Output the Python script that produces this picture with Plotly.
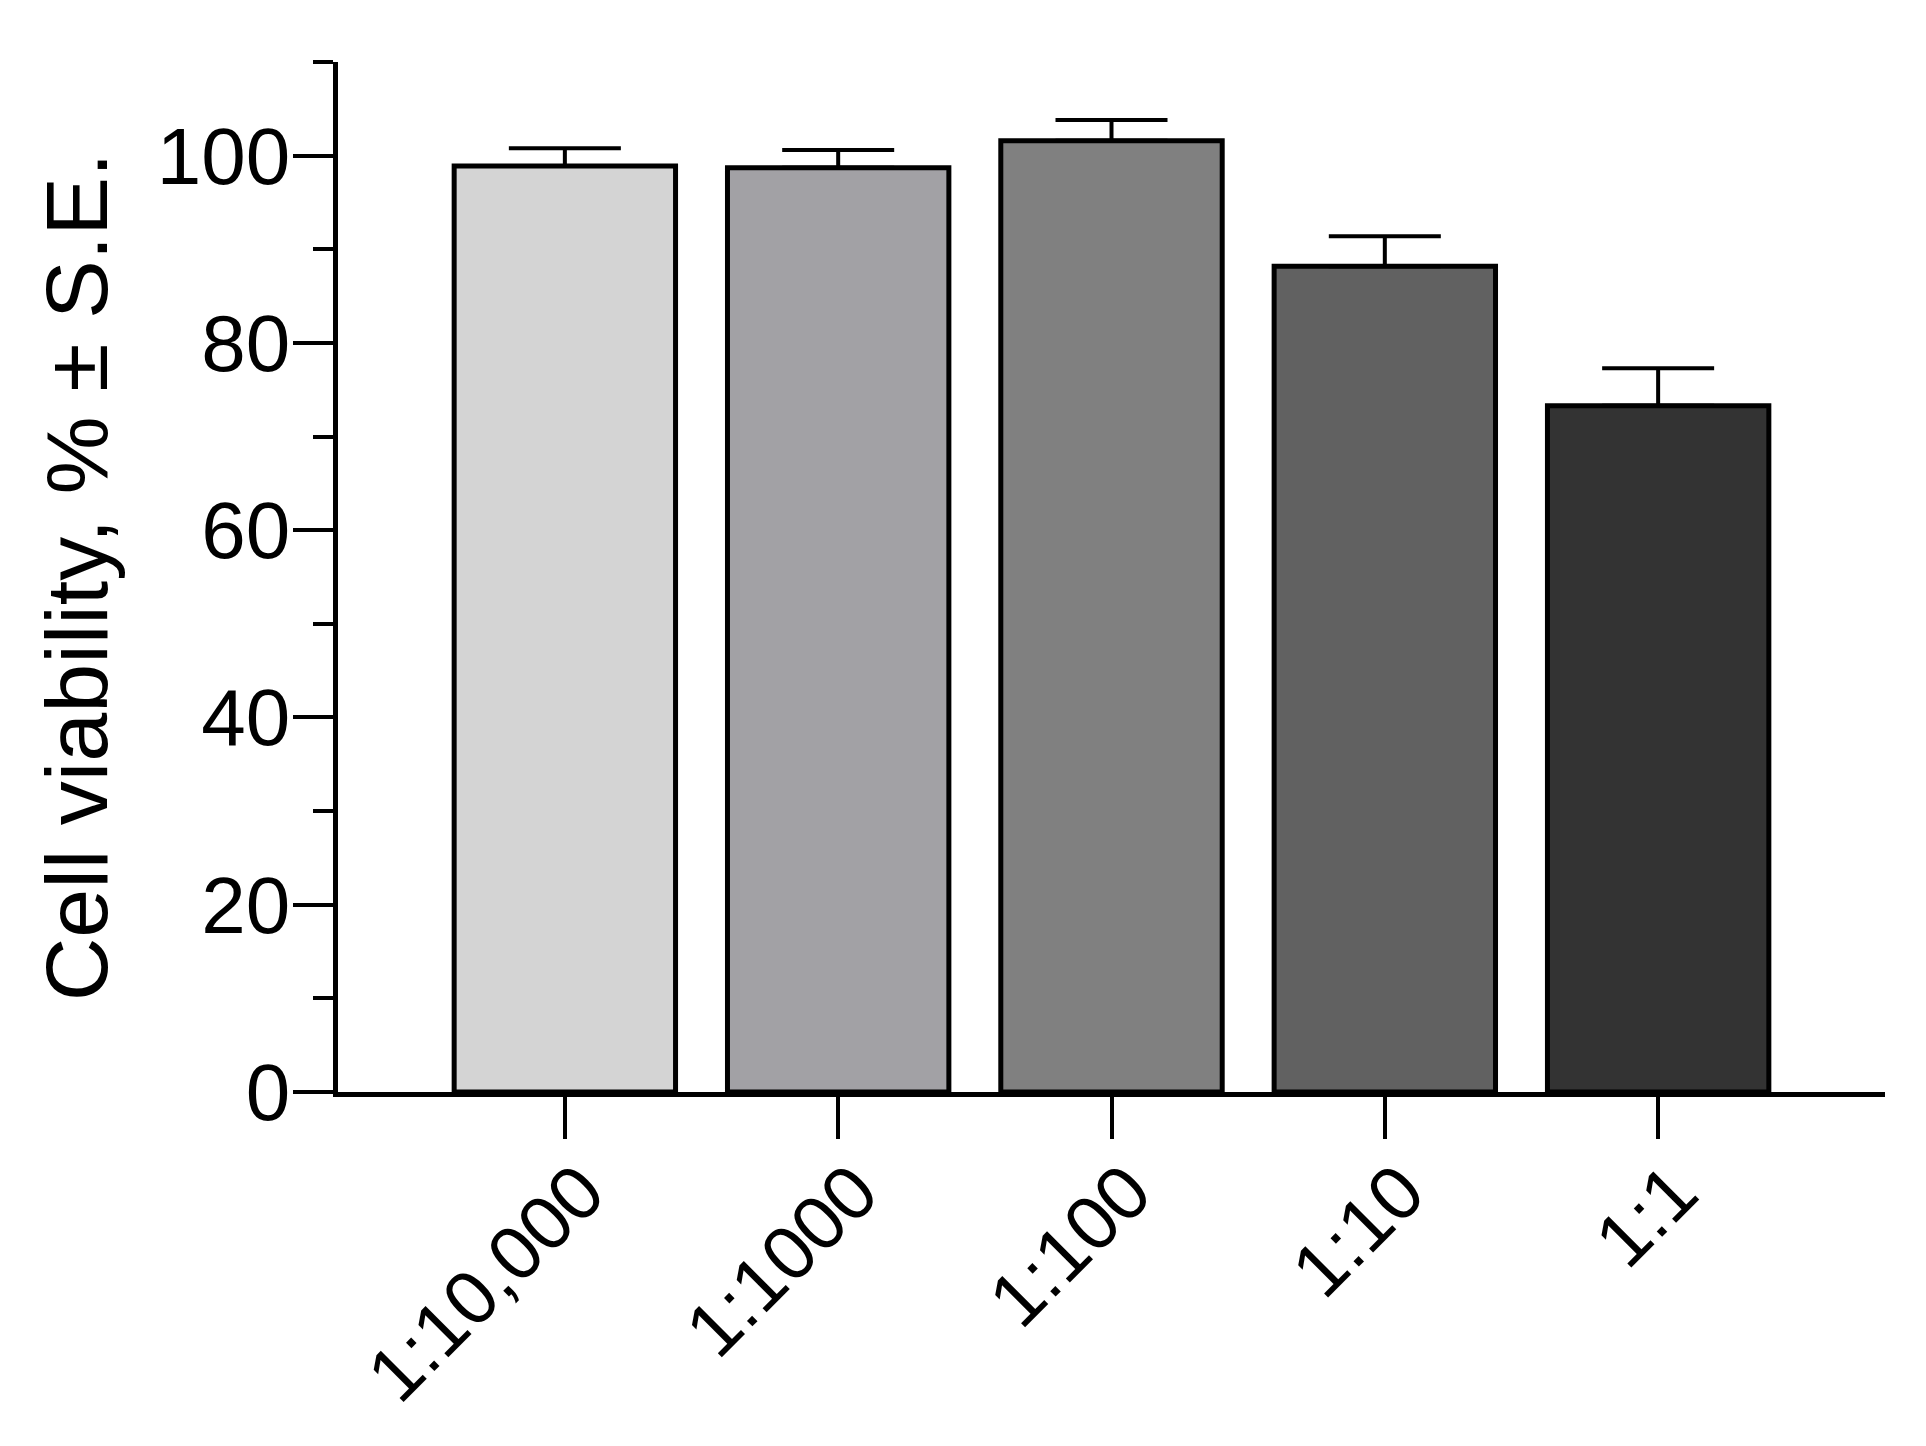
import plotly.graph_objects as go

categories = ["1:10,000", "1:1000", "1:100", "1:10", "1:1"]
viability = [98.9, 98.7, 101.6, 88.2, 73.3]
se = [1.9, 1.9, 2.2, 3.2, 4.0]
bar_colors = ["#d4d4d4", "#a2a1a5", "#808080", "#616161", "#333333"]
y_ticks = [0, 20, 40, 60, 80, 100]

FONT = "Arial, 'Liberation Sans', sans-serif"

xpos = list(range(len(categories)))

fig = go.Figure()
fig.add_trace(go.Bar(
    x=xpos,
    y=viability,
    width=0.81,
    marker=dict(color=bar_colors, line=dict(color="black", width=5)),
    error_y=dict(type="data", symmetric=False, array=se,
                 arrayminus=[0] * len(se), color="black",
                 thickness=4, width=56),
    showlegend=False,
))

fig.update_layout(
    width=1926, height=1446,
    margin=dict(l=330, r=49, t=54, b=362),
    paper_bgcolor="white", plot_bgcolor="white",
    font=dict(family=FONT, color="black"),
)

fig.update_xaxes(
    range=[-0.83, 4.83],
    tickmode="array", tickvals=xpos, ticktext=categories,
    tickangle=-45,
    ticks="outside", ticklen=42, tickwidth=4, tickcolor="black",
    ticklabelstandoff=-22, ticklabelshift=17,
    showline=True, linewidth=4.5, linecolor="black",
    showgrid=False, zeroline=False,
    tickfont=dict(size=76, family=FONT, color="black"),
)

fig.update_yaxes(
    range=[0, 110],
    tickmode="array", tickvals=y_ticks,
    ticks="outside", ticklen=40, tickwidth=4, tickcolor="black",
    ticklabelstandoff=-13,
    minor=dict(tickmode="array", tickvals=[10, 30, 50, 70, 90, 110],
               ticks="outside", ticklen=20, tickwidth=4, tickcolor="black"),
    showline=True, linewidth=4.5, linecolor="black",
    showgrid=False, zeroline=False,
    tickfont=dict(size=80, family=FONT, color="black"),
    title=dict(text="Cell viability, % ± S.E.", standoff=21,
               font=dict(size=88, family=FONT, color="black")),
)

fig.write_html("out.html")
